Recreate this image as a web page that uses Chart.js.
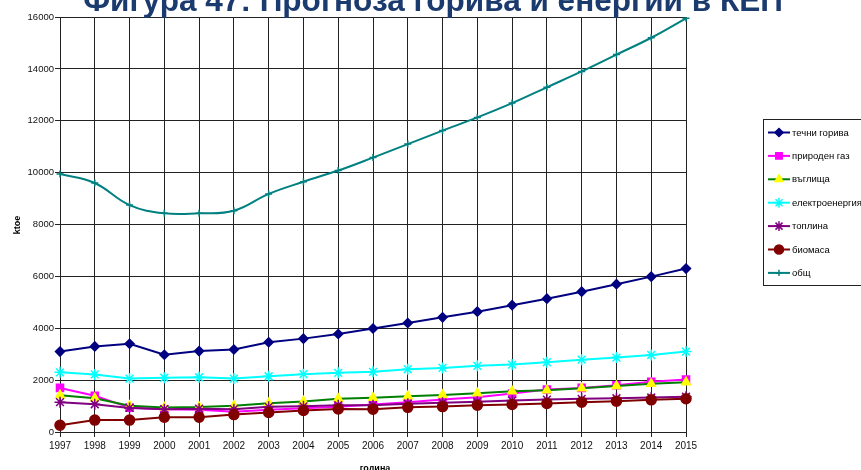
<!DOCTYPE html>
<html lang="bg">
<head>
<meta charset="utf-8">
<title>Прогноза горива и енергии в КЕП</title>
<script src="https://cdn.jsdelivr.net/npm/chart.js"></script>
<style>
  html, body { margin: 0; padding: 0; background: #fff; }
  #wrap { position: relative; width: 861px; height: 470px; overflow: hidden; }
  canvas { display: block; }
</style>
</head>
<body>
<div id="wrap"><canvas id="chart" width="861" height="470"></canvas></div>
<script>
// Final energy consumption forecast by fuel, ktoe
const years = ['1997','1998','1999','2000','2001','2002','2003','2004','2005','2006',
               '2007','2008','2009','2010','2011','2012','2013','2014','2015'];
const liquidFuels = [3100,3300,3400,2980,3120,3180,3460,3600,3780,3990,4200,4420,4640,4890,5140,5410,5700,5990,6300];
const naturalGas  = [1700,1400,940,880,860,780,860,920,970,1060,1150,1250,1340,1480,1640,1700,1800,1940,2020];
const coal        = [1420,1300,1010,940,960,1010,1110,1180,1280,1320,1380,1430,1490,1570,1610,1690,1770,1860,1920];
const electricity = [2300,2220,2060,2090,2110,2060,2150,2230,2280,2320,2420,2470,2550,2600,2690,2790,2870,2970,3100];
const heat        = [1150,1070,930,880,900,880,970,990,1030,1030,1090,1130,1170,1210,1250,1280,1300,1330,1360];
const biomass     = [260,460,460,570,570,670,750,830,890,880,950,980,1030,1060,1100,1150,1190,1240,1280];
const total       = [9950,9600,8750,8430,8430,8530,9180,9650,10080,10580,11100,11620,12130,12680,13290,13900,14550,15200,15950];
const yTicks = { min: 0, max: 16000, step: 2000 };

const titleText = 'Фигура 47: Прогноза горива и енергии в КЕП';
const yTitle = 'ktoe';
const xTitle = 'година';

const FONT = '"Liberation Sans", Arial, sans-serif';

function series(label, data, line, pStyle, pFill, pBorder, radius, order, extra) {
  return Object.assign({
    label, data,
    borderColor: line,
    backgroundColor: pFill,
    borderWidth: 2,
    pointStyle: pStyle,
    pointRadius: radius,
    pointHoverRadius: radius,
    pointBackgroundColor: pFill,
    pointBorderColor: pBorder,
    pointBorderWidth: 1.5,
    tension: 0,
    order
  }, extra || {});
}

const datasets = [
  series('течни горива',   liquidFuels, '#000080', 'rectRot',  '#000080', '#000080', 4.5, 7),
  series('природен газ',   naturalGas,  '#FF00FF', 'rect',     '#FF00FF', '#FF00FF', 5,   6),
  series('въглища',        coal,        '#008000', 'triangle', '#FFFF00', '#FFFF00', 5,   5),
  series('електроенергия', electricity, '#00FFFF', 'star',     '#00FFFF', '#00FFFF', 5.5, 4),
  series('топлина',        heat,        '#800080', 'star',     '#800080', '#800080', 5.5, 3),
  series('биомаса',        biomass,     '#800000', 'circle',   '#800000', '#800000', 5,   2),
  series('общ',            total,       '#008080', 'cross',    '#008080', '#008080', 3.5, 1, { tension: 0.4 })
];

// Title, axis titles and the boxed legend on the right
const decorations = {
  id: 'decorations',
  afterDraw(chart) {
    const ctx = chart.ctx;
    ctx.save();

    // heading (sits partly above the canvas top)
    let size = 28;
    ctx.font = 'bold ' + size + 'px ' + FONT;
    const w = ctx.measureText(titleText).width;
    size = size * 700 / w;
    ctx.font = 'bold ' + size + 'px ' + FONT;
    ctx.fillStyle = '#1b3a6e';
    ctx.textAlign = 'center';
    ctx.textBaseline = 'alphabetic';
    ctx.fillText(titleText, 433, 11);

    // y-axis title
    ctx.font = 'bold 9px ' + FONT;
    ctx.fillStyle = '#000';
    ctx.save();
    ctx.translate(18, 225);
    ctx.rotate(-Math.PI / 2);
    ctx.textBaseline = 'middle';
    ctx.fillText(yTitle, 0, 0);
    ctx.restore();

    // x-axis title
    ctx.textAlign = 'center';
    ctx.textBaseline = 'top';
    ctx.fillText(xTitle, 375, 464);

    // legend box
    ctx.strokeStyle = '#222';
    ctx.lineWidth = 1;
    ctx.strokeRect(763.5, 119.5, 120, 166);
    ctx.font = '9.5px ' + FONT;
    ctx.textAlign = 'left';
    ctx.textBaseline = 'middle';
    chart.data.datasets.forEach((ds, i) => {
      const y = 132.5 + i * 23.4;
      ctx.strokeStyle = ds.borderColor;
      ctx.lineWidth = 2;
      ctx.beginPath();
      ctx.moveTo(768, y);
      ctx.lineTo(790, y);
      ctx.stroke();
      ctx.fillStyle = ds.pointBackgroundColor;
      ctx.strokeStyle = ds.pointBorderColor;
      ctx.lineWidth = ds.pointBorderWidth;
      Chart.helpers.drawPoint(ctx, {
        pointStyle: ds.pointStyle, radius: ds.pointRadius * 0.9, rotation: 0, borderWidth: ds.pointBorderWidth
      }, 779, y);
      ctx.fillStyle = '#000';
      ctx.fillText(ds.label, 792, y + 0.5);
    });
    ctx.restore();
  }
};

new Chart(document.getElementById('chart'), {
  type: 'line',
  data: { labels: years, datasets },
  options: {
    responsive: false,
    animation: false,
    devicePixelRatio: 1,
    layout: { padding: { top: 17, right: 175, left: 0, bottom: 0 } },
    plugins: { legend: { display: false }, tooltip: { enabled: false }, title: { display: false } },
    scales: {
      x: {
        offset: false,
        afterFit(scale) { scale.height = 38; },
        grid: { color: '#222', lineWidth: 1, tickLength: 5, drawTicks: true },
        border: { color: '#222', width: 1 },
        ticks: { autoSkip: false, maxRotation: 0, padding: 3, color: '#111', font: { family: FONT, size: 10 } }
      },
      y: {
        min: yTicks.min, max: yTicks.max,
        afterFit(scale) { scale.width = 60; },
        grid: { color: '#222', lineWidth: 1, tickLength: 5, drawTicks: true },
        border: { color: '#222', width: 1 },
        ticks: {
          stepSize: yTicks.step, padding: 1, color: '#111',
          font: { family: FONT, size: 9.5 },
          callback: (v) => String(v)
        }
      }
    }
  },
  plugins: [decorations]
});
</script>
</body>
</html>
